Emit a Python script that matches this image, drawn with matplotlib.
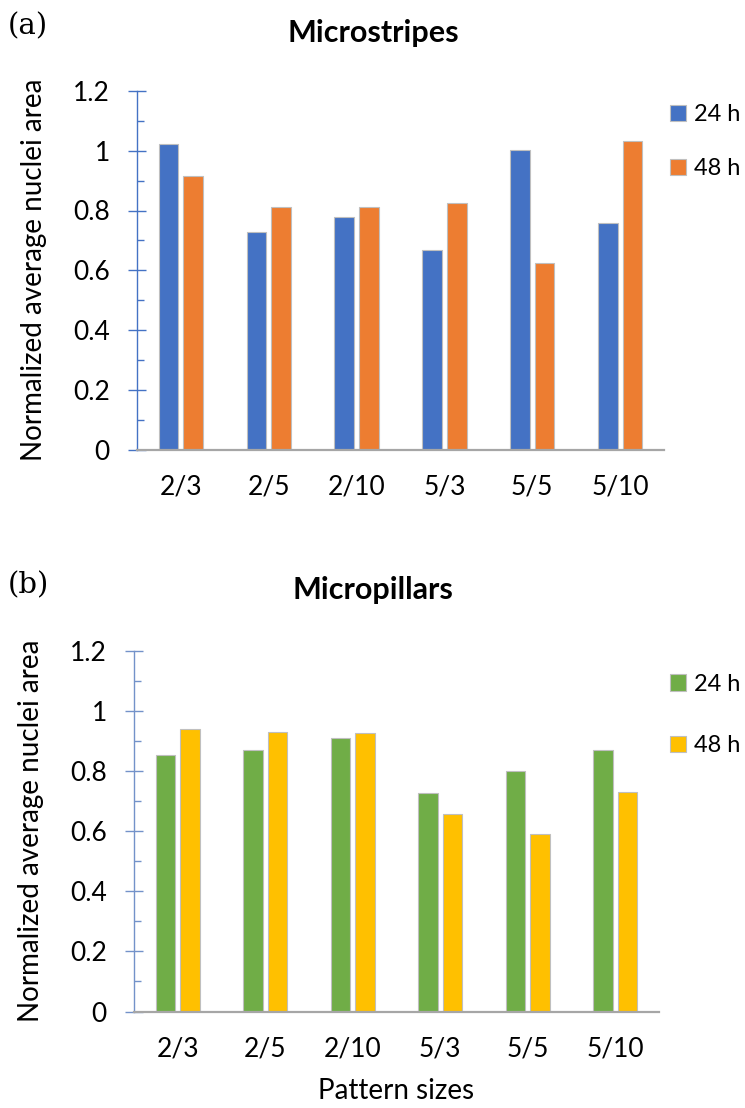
import numpy as np
import matplotlib
matplotlib.use("Agg")
import matplotlib.pyplot as plt
from matplotlib.ticker import MultipleLocator

plt.rcParams['font.family'] = ['Lato', 'DejaVu Sans']

categories = ["2/3", "2/5", "2/10", "5/3", "5/5", "5/10"]
series_labels = ["24 h", "48 h"]

stripes_24h = [1.024, 0.728, 0.778, 0.669, 1.004, 0.759]
stripes_48h = [0.917, 0.813, 0.812, 0.825, 0.623, 1.034]

pillars_24h = [0.854, 0.869, 0.909, 0.727, 0.800, 0.869]
pillars_48h = [0.940, 0.930, 0.928, 0.658, 0.592, 0.732]

W, H = 745, 1108
fig = plt.figure(figsize=(W / 100, H / 100), dpi=100)


def px_box(left, right, top, bottom):
    return [left / W, 1 - bottom / H, (right - left) / W, (bottom - top) / H]


def panel(box, v1, v2, colors, axis_color, title, tag, tag_y, title_y, leg_y, leg_spacing):
    ax = fig.add_axes(box)
    x = np.arange(len(categories))
    bw = 0.223
    off = 0.14
    b1 = ax.bar(x - off, v1, bw, color=colors[0], edgecolor="#BFBFBF", linewidth=0.8, label=series_labels[0])
    b2 = ax.bar(x + off, v2, bw, color=colors[1], edgecolor="#BFBFBF", linewidth=0.8, label=series_labels[1])
    ax.set_xlim(-0.5, len(categories) - 0.5)
    ax.set_ylim(0, 1.2)
    ax.set_xticks(x)
    ax.set_xticklabels(categories)
    ax.yaxis.set_major_locator(MultipleLocator(0.2))
    ax.yaxis.set_minor_locator(MultipleLocator(0.1))
    ax.yaxis.set_major_formatter(lambda v, p: f"{v:g}")
    for s in ["top", "right"]:
        ax.spines[s].set_visible(False)
    ax.spines["left"].set_color(axis_color)
    ax.spines["left"].set_linewidth(1.0)
    ax.spines["bottom"].set_color("#A6A6A6")
    ax.spines["bottom"].set_linewidth(1.6)
    ax.tick_params(axis="y", which="major", direction="inout", length=13, width=1.0,
                   color=axis_color, labelsize=19, pad=13)
    ax.tick_params(axis="y", which="minor", direction="in", length=5, width=1.0, color=axis_color)
    ax.tick_params(axis="x", length=0, labelsize=19, pad=18)
    ax.set_ylabel("Normalized average nuclei area", fontsize=20, labelpad=19)
    fig.text(373 / W, 1 - title_y / H, title, fontsize=22, fontweight="bold", ha="center", va="center")
    fig.text(8 / W, 1 - tag_y / H, tag, fontsize=21, family="DejaVu Serif", ha="left", va="center")
    fig.legend(handles=[b1, b2], loc="center left", bbox_to_anchor=(670 / W, 1 - leg_y / H),
               frameon=False, fontsize=17, borderpad=0, borderaxespad=0,
               handlelength=0.68, handleheight=0.68, handletextpad=0.32, labelspacing=leg_spacing)
    return ax


panel(px_box(137, 664, 91, 449.5), stripes_24h, stripes_48h, ["#4472C4", "#ED7D31"], "#4472C4",
      "Microstripes", "(a)", 26, 33, 141.5, 1.4)
ax_b = panel(px_box(134, 659, 651, 1011.5), pillars_24h, pillars_48h, ["#70AD47", "#FFC000"], "#7392C9",
             "Micropillars", "(b)", 585, 590, 715, 1.72)
ax_b.set_xlabel("Pattern sizes", fontsize=20, labelpad=12)

fig.savefig("out.png", dpi=100)
